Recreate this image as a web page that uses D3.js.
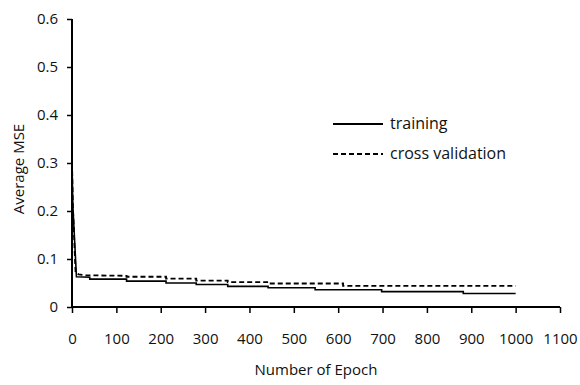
<!DOCTYPE html>
<html>
<head>
<meta charset="utf-8">
<script src="https://cdn.jsdelivr.net/npm/d3@7.9.0/dist/d3.min.js"></script>
<style>
  body { margin: 0; background: #fff; }
  svg text { font-family: "Open Sans", sans-serif; fill: #111; }
</style>
</head>
<body>
<div id="chart"></div>
<script>
// step-shaped curves (epoch, average MSE)
const trainEpochs = [0, 2, 10, 40, 40, 123, 123, 212, 212, 280, 280, 351, 351, 442, 442, 548, 548, 698, 698, 882, 882, 1000];
const trainMSE    = [0.30, 0.21, 0.063, 0.062, 0.058, 0.058, 0.054, 0.054, 0.050, 0.050, 0.047, 0.047, 0.043, 0.043, 0.040, 0.040, 0.036, 0.036, 0.032, 0.032, 0.028, 0.028];

const cvEpochs = [0, 2, 8, 15, 30, 123, 123, 212, 212, 280, 280, 351, 351, 440, 440, 611, 611, 1000];
const cvMSE    = [0.30, 0.21, 0.072, 0.068, 0.066, 0.065, 0.063, 0.063, 0.059, 0.059, 0.055, 0.055, 0.052, 0.052, 0.049, 0.049, 0.044, 0.044];

const xTicks = [0, 100, 200, 300, 400, 500, 600, 700, 800, 900, 1000, 1100];
const yTicks = [0, 0.1, 0.2, 0.3, 0.4, 0.5, 0.6];
const seriesNames = ["training", "cross validation"];

const W = 580, H = 385;
const margin = {top: 19, left: 72};
const width = 560 - margin.left, height = 307 - margin.top;

const svg = d3.select("#chart").append("svg")
    .attr("width", W).attr("height", H);
const g = svg.append("g")
    .attr("transform", `translate(${margin.left}, ${margin.top})`);

const x = d3.scaleLinear().domain([0, 1100]).range([0, width]);
const y = d3.scaleLinear().domain([0, 0.6]).range([height, 0]);

// axes
const xAxis = g.append("g")
    .attr("transform", `translate(0, ${height})`)
    .call(d3.axisBottom(x).tickValues(xTicks).tickSize(6).tickPadding(20).tickFormat(d3.format("d")));
const yAxis = g.append("g")
    .call(d3.axisLeft(y).tickValues(yTicks).tickSize(5).tickPadding(9).tickFormat(d => d === 0 ? "0" : d3.format(".1f")(d)));

[xAxis, yAxis].forEach(a => {
  a.select(".domain").attr("stroke", "#000").attr("stroke-width", 2);
  a.selectAll(".tick line").attr("stroke", "#000").attr("stroke-width", 1.5);
  a.selectAll(".tick text").attr("font-size", 15).attr("fill", "#111")
    .attr("font-family", "'Open Sans', sans-serif");
});
xAxis.select(".domain").attr("d", `M0,0H${width}`);
yAxis.select(".domain").attr("d", `M0,0V${height}`);

// lines
const line = d3.line().x(d => x(d[0])).y(d => y(d[1]));

g.append("path")
    .datum(d3.zip(trainEpochs, trainMSE))
    .attr("fill", "none").attr("stroke", "#000").attr("stroke-width", 1.6)
    .attr("d", line);

g.append("path")
    .datum(d3.zip(cvEpochs, cvMSE))
    .attr("fill", "none").attr("stroke", "#000").attr("stroke-width", 1.8)
    .attr("stroke-dasharray", "5,3")
    .attr("d", line);

// legend
const legend = svg.append("g").attr("transform", "translate(333, 124)");
seriesNames.forEach((name, i) => {
  const row = legend.append("g").attr("transform", `translate(0, ${i * 30})`);
  row.append("line").attr("x1", 0).attr("x2", 50).attr("y1", 0).attr("y2", 0)
    .attr("stroke", "#000").attr("stroke-width", 1.8)
    .attr("stroke-dasharray", i === 0 ? null : "5,3");
  row.append("text").attr("x", 57).attr("y", 5).attr("font-size", 16).text(name);
});

// axis titles
svg.append("text")
    .attr("x", margin.left + x(550)).attr("y", 375)
    .attr("text-anchor", "middle").attr("font-size", 15)
    .text("Number of Epoch");
svg.append("text")
    .attr("transform", "translate(24, 169) rotate(-90)")
    .attr("text-anchor", "middle").attr("font-size", 15)
    .text("Average MSE");
</script>
</body>
</html>
